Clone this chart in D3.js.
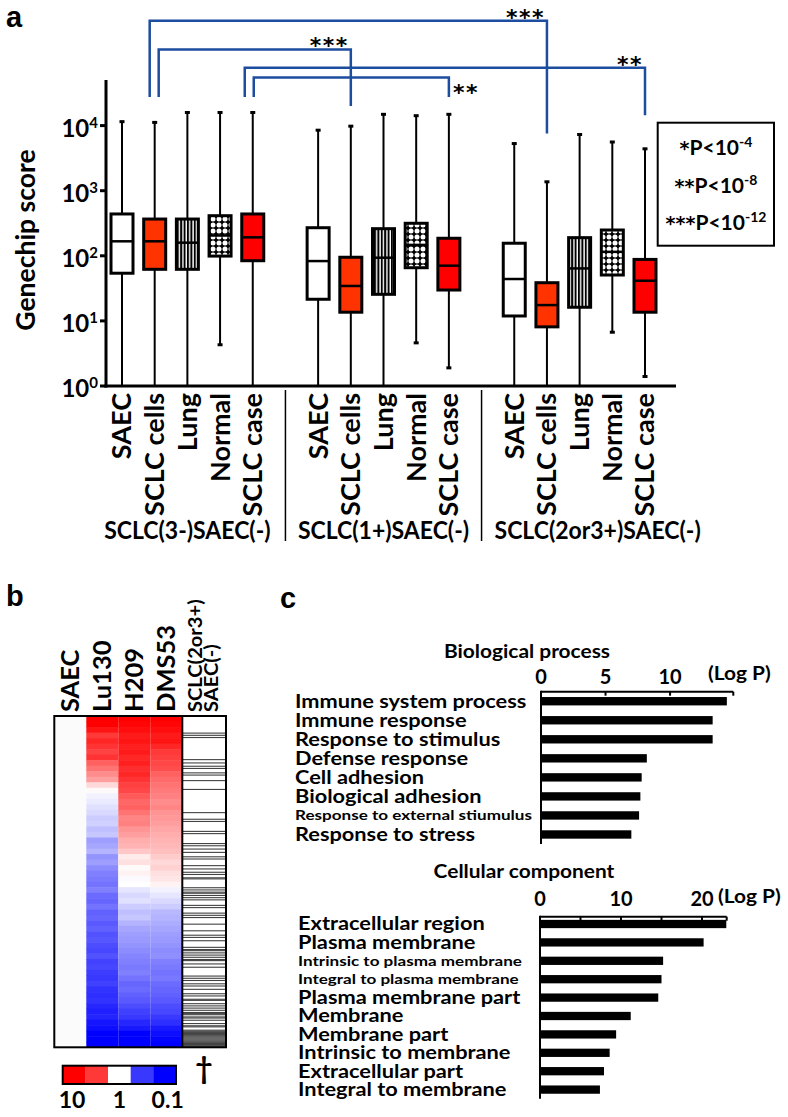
<!DOCTYPE html>
<html><head><meta charset="utf-8">
<script src="https://cdn.jsdelivr.net/npm/d3@7"></script>
<style>
body{margin:0;background:#fff}
svg text{font-family:Lato,"Open Sans",sans-serif;font-weight:700;fill:#000}
.ast{font-family:"DejaVu Sans",sans-serif}
</style></head>
<body><svg id="chart" width="788" height="1117"></svg>
<script>
// ================= DATA =================
// Panel a: box plots (Genechip score)
const groups = ["SCLC(3-)SAEC(-)", "SCLC(1+)SAEC(-)", "SCLC(2or3+)SAEC(-)"];
const sampleTypes = ["SAEC", "SCLC cells", "Lung", "Normal", "SCLC case"];
const whiskerLow  = [[1, 1, 1, 4.3, 1], [1, 1, 1, 4.6, 1.9], [1, 1, 1, 6.7, 1.4]];
const q1Values    = [[54, 62, 62, 99, 84], [21.5, 13.6, 25.6, 65.6, 29.8], [11.9, 8.1, 16.2, 50.7, 13.6]];
const medianValues= [[167, 167, 159, 205, 192], [83, 34.4, 93.5, 147, 70.5], [44, 17.5, 64, 115, 41.4]];
const q3Values    = [[439, 367, 367, 413, 439], [270, 95, 261, 316, 186], [156, 38.6, 190, 249, 88]];
const whiskerHigh = [[11500, 11200, 15900, 15900, 15900], [8500, 9800, 14900, 14200, 14900], [5300, 1370, 7300, 5600, 4400]];
const yTickExponents = [0, 1, 2, 3, 4];
// significance comparisons: [group, sampleType] pairs
const comparisons = [
  {from: [0, 1], to: [2, 1], label: "***"},
  {from: [0, 1], to: [1, 1], label: "***"},
  {from: [0, 4], to: [2, 4], label: "**"},
  {from: [0, 4], to: [1, 4], label: "**"}
];
const sigLegend = [["*", "-4"], ["**", "-8"], ["***", "-12"]];

// Panel b: heatmap (log10 expression ratio vs SAEC)
const heatColumns = ["SAEC", "Lu130", "H209", "DMS53"];
const saecRatio = [0,0,0,0,0,0,0,0,0,0,0,0,0,0,0,0,0,0,0,0,0,0,0,0,0,0,0,0,0,0,0,0,0,0,0,0,0,0,0,0,0,0,0,0,0,0,0,0,0,0,0,0,0,0,0,0,0,0,0,0];
const lu130Ratio = [1.0,1.0,0.92,0.78,0.85,0.8,0.74,0.8,0.62,0.55,0.45,0.38,0.15,0.02,-0.05,-0.08,-0.12,-0.15,-0.2,-0.18,-0.25,-0.22,-0.38,-0.35,-0.3,-0.42,-0.38,-0.45,-0.5,-0.52,-0.55,-0.5,-0.58,-0.6,-0.55,-0.62,-0.6,-0.65,-0.62,-0.68,-0.66,-0.7,-0.72,-0.68,-0.74,-0.72,-0.76,-0.78,-0.75,-0.8,-0.82,-0.8,-0.85,-0.88,-0.86,-0.92,-0.95,-1.0,-1.0,-1.0];
const h209Ratio = [1.0,0.98,0.95,0.9,0.92,0.88,0.9,0.85,0.88,0.82,0.85,0.8,0.75,0.72,0.65,0.6,0.62,0.55,0.48,0.5,0.42,0.38,0.32,0.3,0.22,0.08,0.12,0.02,0.05,-0.02,0.0,-0.1,-0.15,-0.12,-0.2,-0.25,-0.22,-0.3,-0.35,-0.38,-0.4,-0.42,-0.45,-0.48,-0.5,-0.52,-0.5,-0.55,-0.6,-0.58,-0.62,-0.65,-0.7,-0.75,-0.78,-0.85,-0.9,-1.0,-1.0,-1.0];
const dms53Ratio = [1.0,0.98,0.95,0.9,0.92,0.85,0.78,0.75,0.72,0.7,0.62,0.58,0.55,0.52,0.5,0.45,0.48,0.42,0.4,0.38,0.35,0.32,0.3,0.28,0.25,0.2,0.15,0.18,0.12,0.1,0.05,-0.05,-0.1,-0.15,-0.2,-0.28,-0.3,-0.32,-0.35,-0.38,-0.4,-0.42,-0.45,-0.44,-0.5,-0.52,-0.55,-0.53,-0.58,-0.6,-0.62,-0.65,-0.7,-0.72,-0.78,-0.82,-0.9,-0.95,-0.98,-1.0];
const markerGeneCount = 300;
const markerGenes = [15,17,19,39,42,45,47,51,53,58,66,87,93,95,104,106,115,117,120,123,127,129,135,138,141,143,146,147,155,157,159,160,162,164,166,171,173,178,180,182,188,194,198,200,203,209,211,212,214,216,218,220,221,224,227,235,237,239,242,244,247,251,253,256,257,260,262,264,266,268,269,270,272,273,275,278,280,281,284,285,286,287,288,289,290,291,292,293,294,295,296,297,298,299];
const legendSteps = [1, 0.78, 0, -0.78, -1];
const legendLabels = [["10", 0], ["1", 2], ["0.1", 4]];

// Panel c: GO enrichment
const bpTerms = ["Immune system process", "Immune response", "Response to stimulus", "Defense response", "Cell adhesion", "Biological adhesion", "Response to external stiumulus", "Response to stress"];
const bpLogP = [14.4, 13.3, 13.3, 8.2, 7.8, 7.7, 7.6, 7.0];
const bpTicks = [0, 5, 10];
const ccTerms = ["Extracellular region", "Plasma membrane", "Intrinsic to plasma membrane", "Integral to plasma membrane", "Plasma membrane part", "Membrane", "Membrane part", "Intrinsic to membrane", "Extracellular part", "Integral to membrane"];
const ccLogP = [23.0, 20.2, 15.2, 15.0, 14.6, 11.2, 9.4, 8.6, 7.9, 7.4];
const ccTicks = [0, 10, 20];
const ccMinorTicks = [5, 10, 15, 20];

// ================= DRAW =================
const svg = d3.select("#chart");
const defs = svg.append("defs");
const stripe = defs.append("pattern").attr("id","stripes").attr("patternUnits","userSpaceOnUse").attr("width",3.4).attr("height",10);
stripe.append("rect").attr("width",3.4).attr("height",10).attr("fill","#fff");
stripe.append("rect").attr("width",2).attr("height",10).attr("fill","#000");
const dots = defs.append("pattern").attr("id","dots").attr("patternUnits","userSpaceOnUse").attr("width",6).attr("height",6);
dots.append("rect").attr("width",6).attr("height",6).attr("fill","#000");
dots.append("circle").attr("cx",3).attr("cy",3).attr("r",2.5).attr("fill","#fff");
const boxFill = {"SAEC":"#fff","SCLC cells":"#ff3300","Lung":"url(#stripes)","Normal":"url(#dots)","SCLC case":"#ff0000"};

// text helper: (optionally rotated) text, optionally stretched along its reading direction
function sText(g, x, y, txt, size, opts = {}) {
  const rot = opts.rotate ? " rotate(-90)" : "";
  const t = g.append("text")
    .attr("transform", `translate(${x},${y})${rot} scale(${opts.sx || 1},${opts.sy || 1})`)
    .attr("font-size", size)
    .attr("text-anchor", opts.anchor || "start");
  if (opts.dy) t.attr("dy", opts.dy);
  t.text(txt);
  return t;
}

// panel letters
[["a",6,27],["b",6,606],["c",280,608]].forEach(([t,x,yy]) =>
  svg.append("text").attr("x",x).attr("y",yy).attr("font-size",29)
    .style("font-family","'Liberation Sans',Arial,sans-serif").text(t));

// ---- Panel a ----
const y = d3.scaleLog().domain([1, 1e4]).range([386, 125.6]);
const slot = d3.scaleLinear().domain([0, 16]).range([122, 645]);
const xPos = (g, c) => slot(g * 6 + c);
const gA = svg.append("g");
const boxW = 22;
const groupLabelShift = [0, 0, 18];

groups.forEach((grp, g) => {
  sampleTypes.forEach((st, c) => {
    const x = xPos(g, c);
    gA.append("line").attr("x1",x).attr("x2",x).attr("y1",y(whiskerLow[g][c])).attr("y2",y(whiskerHigh[g][c]))
      .attr("stroke","#000").attr("stroke-width",2);
    gA.append("line").attr("x1",x-2.5).attr("x2",x+2.5).attr("y1",y(whiskerHigh[g][c])).attr("y2",y(whiskerHigh[g][c]))
      .attr("stroke","#000").attr("stroke-width",3);
    if (whiskerLow[g][c] > 1)
      gA.append("line").attr("x1",x-2.5).attr("x2",x+2.5).attr("y1",y(whiskerLow[g][c])).attr("y2",y(whiskerLow[g][c]))
        .attr("stroke","#000").attr("stroke-width",3);
    gA.append("rect").attr("x",x-boxW/2).attr("width",boxW)
      .attr("y",y(q3Values[g][c])).attr("height",y(q1Values[g][c])-y(q3Values[g][c]))
      .attr("fill",boxFill[st]).attr("stroke","#000").attr("stroke-width",3);
    gA.append("line").attr("x1",x-boxW/2).attr("x2",x+boxW/2).attr("y1",y(medianValues[g][c])).attr("y2",y(medianValues[g][c]))
      .attr("stroke","#000").attr("stroke-width",2.5);
    sText(gA, x, 393, st, 27, {rotate:true, anchor:"end", dy:"0.35em"});
  });
  sText(gA, xPos(g,2) + groupLabelShift[g], 539, grp, 23, {anchor:"middle", sy:1.1});
});
// group separators
[[4,6],[10,12]].forEach(([a,b]) => {
  const sx = (slot(a)+slot(b))/2;
  gA.append("line").attr("x1",sx).attr("x2",sx).attr("y1",390).attr("y2",541).attr("stroke","#000").attr("stroke-width",1.5);
});
// axes
gA.append("line").attr("x1",106).attr("x2",106).attr("y1",80).attr("y2",387.5).attr("stroke","#000").attr("stroke-width",3);
gA.append("line").attr("x1",104.5).attr("x2",676).attr("y1",386).attr("y2",386).attr("stroke","#000").attr("stroke-width",3);
yTickExponents.forEach(e => {
  const ty = y(Math.pow(10, e));
  gA.append("line").attr("x1",100).attr("x2",106).attr("y1",ty).attr("y2",ty).attr("stroke","#000").attr("stroke-width",3);
  const t = gA.append("text").attr("x",98).attr("y",ty+11).attr("text-anchor","end").attr("font-size",24);
  t.append("tspan").text("10");
  t.append("tspan").attr("dy",-9).attr("font-size",15).text(e);
});
sText(gA, 26, 240, "Genechip score", 26.5, {rotate:true, anchor:"middle", dy:"0.35em"});

// significance brackets (layout in log10 units of the score axis)
const bracketLayout = [
  {top: 5.61, end: 3.88, start: 4.44, dx: -5, place: "above"},
  {top: 5.17, end: 4.30, start: 4.44, dx: 4, place: "above"},
  {top: 4.89, end: 4.16, start: 4.44, dx: -8, place: "above"},
  {top: 4.74, end: 4.44, start: 4.44, dx: 1, place: "right"}
];
const blue = "#1d4d9e";
comparisons.forEach((cmp, i) => {
  const L = bracketLayout[i];
  const x1 = xPos(cmp.from[0], cmp.from[1]) + L.dx;
  const x2 = xPos(cmp.to[0], cmp.to[1]);
  const yt = y(Math.pow(10, L.top));
  gA.append("path").attr("d", `M${x1},${y(Math.pow(10,L.start))}V${yt}H${x2}V${y(Math.pow(10,L.end))}`)
    .attr("fill","none").attr("stroke",blue).attr("stroke-width",2.5);
  const st = gA.append("text").attr("class","ast").attr("font-size",22).attr("letter-spacing",1.5);
  if (L.place === "above") st.attr("x", x2-2).attr("y", yt+4).attr("text-anchor","end");
  else st.attr("x", x2+4).attr("y", yt+22.5).attr("text-anchor","start");
  st.text(cmp.label);
});
// significance legend
gA.append("rect").attr("x",657.7).attr("y",122.7).attr("width",116.3).attr("height",123)
  .attr("fill","none").attr("stroke","#000").attr("stroke-width",2);
sigLegend.forEach(([s, ex], i) => {
  const t = gA.append("text").attr("x",716).attr("y",155+i*37.5).attr("text-anchor","middle").attr("font-size",21);
  t.append("tspan").attr("class","ast").attr("font-size",19).text(s);
  t.append("tspan").text("P<10");
  t.append("tspan").attr("dy",-8).attr("font-size",14).text(ex);
});

// ---- Panel b ----
const gB = svg.append("g");
const hmTop = 716, hmBot = 1047.3;
const colX = d3.scaleBand().domain(heatColumns).range([54.3, 182.3]);
const rowY = d3.scaleBand().domain(d3.range(lu130Ratio.length)).range([hmTop, hmBot]);
const color = d3.scaleLinear().domain([-1, 0, 1]).range(["#0000ff", "#ffffff", "#ff0000"]).clamp(true);
const heatData = {"SAEC": saecRatio, "Lu130": lu130Ratio, "H209": h209Ratio, "DMS53": dms53Ratio};
heatColumns.forEach(col => {
  gB.selectAll(null).data(heatData[col]).enter().append("rect")
    .attr("x", colX(col)).attr("width", colX.bandwidth())
    .attr("y", (d, i) => rowY(i)).attr("height", rowY.bandwidth() + 0.5)
    .attr("fill", d => col === "SAEC" ? "#fbfbfb" : color(d));
});
const markY = d3.scaleLinear().domain([0, markerGeneCount]).range([hmTop, hmBot]);
gB.append("rect").attr("x",182.3).attr("y",hmTop).attr("width",43.7).attr("height",hmBot-hmTop).attr("fill","#fff");
gB.selectAll(null).data(markerGenes).enter().append("rect")
  .attr("x",182.3).attr("width",43.7).attr("y", d => markY(d)).attr("height", markY(1)-markY(0))
  .attr("fill","#222").attr("opacity",0.85);
gB.append("rect").attr("x",54.3).attr("y",hmTop).attr("width",226-54.3).attr("height",hmBot-hmTop)
  .attr("fill","none").attr("stroke","#000").attr("stroke-width",2);
gB.append("line").attr("x1",182.3).attr("x2",182.3).attr("y1",hmTop).attr("y2",hmBot).attr("stroke","#000").attr("stroke-width",2);
heatColumns.forEach(col => {
  sText(gB, colX(col)+colX.bandwidth()/2, 712, col, 25.5, {rotate:true, dy:"0.35em"});
});
[["SCLC(2or3+)",195],["SAEC(-)",211]].forEach(([t,x]) =>
  sText(gB, x, 712, t, 19, {rotate:true, sx:1.06, dy:"0.35em"}));
gB.append("text").attr("x",204).attr("y",1079).attr("text-anchor","middle").attr("font-size",30).text("†");
// color legend
const legX = d3.scaleBand().domain(d3.range(legendSteps.length)).range([62.7, 176]);
legendSteps.forEach((v, i) => gB.append("rect").attr("x",legX(i)).attr("y",1065.7).attr("width",legX.bandwidth()+0.3).attr("height",18.3).attr("fill",color(v)));
gB.append("rect").attr("x",62.7).attr("y",1065.7).attr("width",176-62.7).attr("height",18.3).attr("fill","none").attr("stroke","#000").attr("stroke-width",2);
legendLabels.forEach(([t, i]) => gB.append("text").attr("x",legX(i)+legX.bandwidth()/2 - (i===0?2:0) + (i===4?3:0)).attr("y",1108)
  .attr("text-anchor","middle").attr("font-size",23).text(t));

// ---- Panel c ----
const gC = svg.append("g");
function goChart(terms, vals, title, titleX, titleY, x0, xMax, xEnd, axisY, yRange, pad, labelX, ticks, minor, tickLabelY, logPX, logPY) {
  const x = d3.scaleLinear().domain([0, xMax]).range([x0, xEnd]);
  const yb = d3.scaleBand().domain(terms).range(yRange).paddingInner(pad).paddingOuter(pad/2);
  sText(gC, titleX, titleY, title, 19, {anchor:"middle", sx:1.1});
  gC.selectAll(null).data(vals).enter().append("rect")
    .attr("x", x(0)).attr("width", d => x(d) - x(0))
    .attr("y", (d, i) => yb(terms[i])).attr("height", yb.bandwidth()).attr("fill","#000");
  gC.append("line").attr("x1",x(0)).attr("x2",x(xMax)).attr("y1",axisY).attr("y2",axisY).attr("stroke","#000").attr("stroke-width",2);
  gC.append("line").attr("x1",x(0)).attr("x2",x(0)).attr("y1",axisY-1).attr("y2",yRange[1]).attr("stroke","#000").attr("stroke-width",2);
  minor.concat([xMax]).forEach(t => gC.append("line").attr("x1",x(t)).attr("x2",x(t)).attr("y1",axisY).attr("y2",axisY+4).attr("stroke","#000").attr("stroke-width",2));
  ticks.forEach(t => gC.append("text").attr("x",x(t)).attr("y",tickLabelY).attr("text-anchor","middle").attr("font-size",20).text(t));
  sText(gC, logPX, logPY, "(Log P)", 19, {sx:1.1});
  terms.forEach(t => {
    const small = t.length > 24;
    sText(gC, labelX, yb(t)+yb.bandwidth()/2, t, small ? 14 : 18, {sx: small ? 1.22 : 1.21, dy:"0.36em"});
  });
}
goChart(bpTerms, bpLogP, "Biological process", 527, 657.5, 541, 14.9, 733.3, 691.7, [691.7, 844], 0.56, 295, bpTicks, [5, 10], 684, 708, 680);
goChart(ccTerms, ccLogP, "Cellular component", 524, 878, 540, 23.05, 726.7, 916.7, [914.8, 1098.8], 0.55, 298, ccTicks, ccMinorTicks, 906, 718, 903);
</script></body></html>
